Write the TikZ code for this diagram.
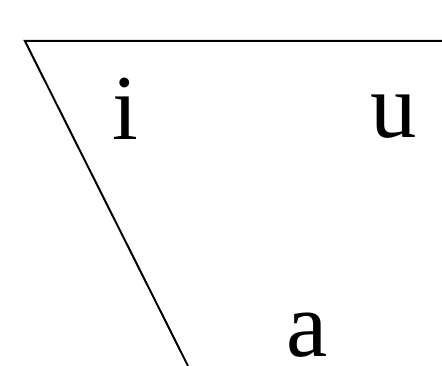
\documentclass[tikz,border=0pt]{standalone}
\usepackage{fontspec}
\setmainfont{Liberation Serif}
\usepackage{xcolor}
\usepackage{tikz}
\usetikzlibrary{positioning,calc}

\tikzset{
  vowel/.style={font=\fontsize{66}{78}\selectfont, anchor=base, inner sep=0pt},
  edge/.style={line width=1.4pt, black}
}

\begin{document}
\begin{tikzpicture}
  \useasboundingbox (0,0) rectangle (11.05,9.15);
  \clip (0,0) rectangle (11.05,9.15);
  % corners of the vowel space
  \coordinate (front) at (0.62,8.13);
  \coordinate (back) at (11.6,8.13);
  \coordinate (low) at (4.7,0);
  \draw[edge] (back) -- (front) -- (low);
  \node[vowel] (i) at (3.13,5.65) {i};
  \node[vowel] (u) at (9.85,5.7) {u};
  \node[vowel] (a) at (7.68,0.24) {a};
\end{tikzpicture}
\end{document}
